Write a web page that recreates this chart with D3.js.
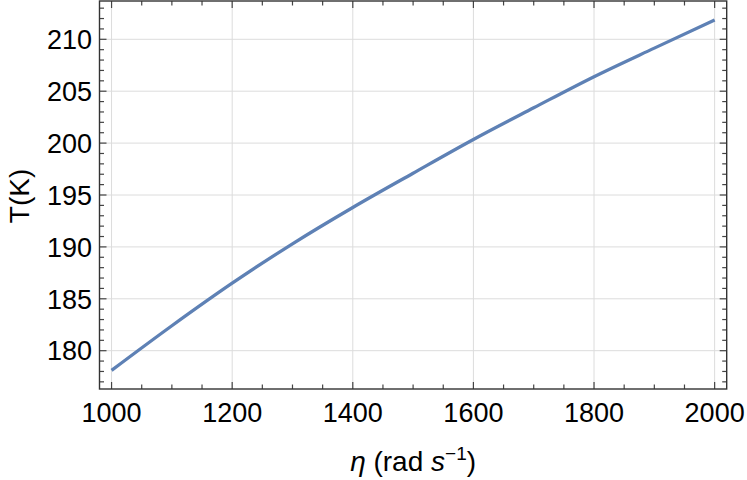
<!DOCTYPE html>
<html><head><meta charset="utf-8">
<script src="https://cdn.jsdelivr.net/npm/d3@7"></script>
<style>body{margin:0;background:#fff}svg{display:block}text{font-family:"Liberation Sans",Arial,sans-serif}</style>
</head><body>
<svg id="c" width="747" height="480"></svg>
<script>
const etaValues = [1000,1100,1200,1300,1400,1500,1600,1700,1800,1900,2000];
const tempValues = [178.1,182.4,186.5,190.3,193.8,197.1,200.35,203.4,206.4,209.15,211.85];
const xTicks = [1000,1200,1400,1600,1800,2000];
const yTicks = [180,185,190,195,200,205,210];

const svg = d3.select("#c");
const L=99.5, R=726.7, T=1, B=389;
const x = d3.scaleLinear().domain([980,2020]).range([L,R]);
const y = d3.scaleLinear().domain([176.31,213.69]).range([B,T]);

// grid
const g = svg.append("g");
g.selectAll(".gx").data(xTicks).enter().append("line")
  .attr("x1",d=>x(d)).attr("x2",d=>x(d)).attr("y1",T).attr("y2",B)
  .attr("stroke","#dcdcdc").attr("stroke-width",1);
g.selectAll(".gy").data(yTicks).enter().append("line")
  .attr("y1",d=>y(d)).attr("y2",d=>y(d)).attr("x1",L).attr("x2",R)
  .attr("stroke","#dcdcdc").attr("stroke-width",1);

// curve
const line = d3.line().x((d,i)=>x(etaValues[i])).y(d=>y(d)).curve(d3.curveMonotoneX);
svg.append("path").datum(tempValues).attr("d",line)
  .attr("fill","none").attr("stroke","#5E81B5").attr("stroke-width",3.3).attr("stroke-linecap","butt");

// ticks
const xMinor = d3.range(1000,2001,50);
const yMinor = d3.range(177,214,1);
const tc="#444";
function tick(x1,y1,x2,y2){svg.append("line").attr("x1",x1).attr("y1",y1).attr("x2",x2).attr("y2",y2).attr("stroke",tc).attr("stroke-width",1.2);}
xMinor.forEach(v=>{const len = v%200===0?7:4.5; tick(x(v),B,x(v),B-len); tick(x(v),T,x(v),T+len);});
yMinor.forEach(v=>{const len = v%5===0?7:4.5; tick(L,y(v),L+len,y(v)); tick(R,y(v),R-len,y(v));});

// frame
svg.append("rect").attr("x",L).attr("y",T).attr("width",R-L).attr("height",B-T)
  .attr("fill","none").attr("stroke","#333").attr("stroke-width",1.4);

// labels
svg.selectAll(".xl").data(xTicks).enter().append("text")
  .attr("x",d=>x(d)).attr("y",421.5).attr("text-anchor","middle")
  .attr("font-size",27).attr("fill","#000").text(d=>d);
svg.selectAll(".yl").data(yTicks).enter().append("text")
  .attr("x",92).attr("y",d=>y(d)).attr("dy","0.36em").attr("text-anchor","end")
  .attr("font-size",27).attr("fill","#000").text(d=>d);

svg.append("text").attr("transform","translate(29,196) rotate(-90)")
  .attr("text-anchor","middle").attr("font-size",28).text("T(K)");

const xl = svg.append("text").attr("x",(L+R)/2).attr("y",471).attr("text-anchor","middle").attr("font-size",28);
xl.append("tspan").attr("font-style","italic").text("η");
xl.append("tspan").text(" (rad ");
xl.append("tspan").attr("font-style","italic").text("s");
xl.append("tspan").attr("font-size",19).attr("dy",-11).text("−1");
xl.append("tspan").attr("dy",11).text(")");
</script>
</body></html>
